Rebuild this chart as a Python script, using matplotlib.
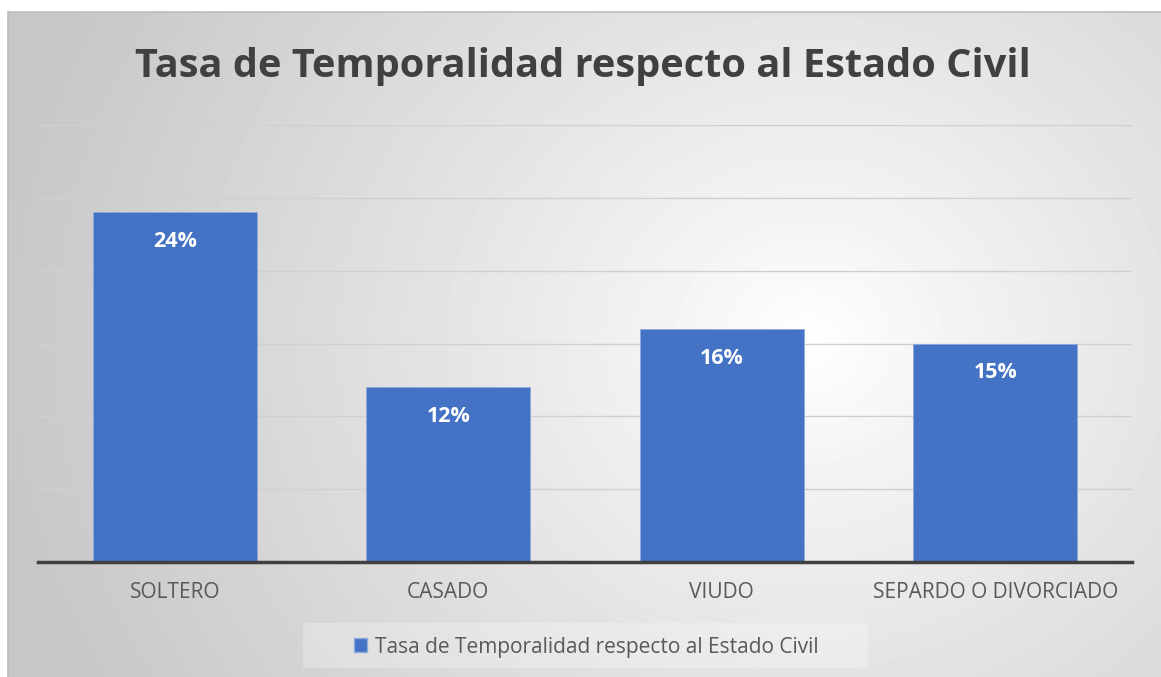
import numpy as np
import matplotlib.pyplot as plt
from matplotlib.patches import Patch, Rectangle

categories = ["SOLTERO", "CASADO", "VIUDO", "SEPARDO O DIVORCIADO"]
values = [24, 12, 16, 15]
labels = ["24%", "12%", "16%", "15%"]
series_name = "Tasa de Temporalidad respecto al Estado Civil"

W, H = 1161, 677
fig = plt.figure(figsize=(W / 100, H / 100), dpi=100)
fig.patch.set_facecolor("white")

# radial gradient background of the chart area
bg = fig.add_axes([8 / W, 0, 1 - 8 / W, 1 - 12 / H])
yy, xx = np.mgrid[0:665, 0:1153]
cx, cy = 800, 330
r = np.sqrt(((xx - cx) / 1.0) ** 2 + ((yy - cy) / 0.9) ** 2)
r = np.clip(r / 820, 0, 1)
shade = 1.0 - 0.22 * r ** 0.9
bg.imshow(shade, cmap="gray", vmin=0, vmax=1, aspect="auto",
          extent=[0, 1, 0, 1], origin="upper")
bg.set_xticks([])
bg.set_yticks([])
for side in ["right", "bottom"]:
    bg.spines[side].set_visible(False)
for side in ["left", "top"]:
    bg.spines[side].set_color("#bdbdbd")
    bg.spines[side].set_linewidth(1.2)

# faint legend box
fig.patches.append(Rectangle((303 / W, 1 - 668 / H), 565 / W, 45 / H,
                             transform=fig.transFigure, facecolor="white",
                             alpha=0.25, edgecolor="none", zorder=1))

ax = fig.add_axes([38 / W, (H - 562) / H, (1132 - 38) / W, (562 - 125) / H])
ax.set_facecolor("none")
x = np.arange(len(categories))
bars = ax.bar(x, values, width=0.6, color="#4472C4", edgecolor="#8eaadb",
              linewidth=0.6, zorder=3)
ax.set_xlim(-0.5, len(categories) - 0.5)
ax.set_ylim(0, 30)
ax.set_yticks(np.arange(5, 31, 5))
ax.yaxis.grid(True, color="#d0d0d0", linewidth=1.0, zorder=0)
ax.tick_params(axis="y", left=False, labelleft=False)
ax.tick_params(axis="x", bottom=False, pad=11)
ax.set_xticks(x)
ax.set_xticklabels(categories, fontsize=15, color="#595959",
                   family=["Open Sans", "DejaVu Sans"])
for side in ["left", "right", "top"]:
    ax.spines[side].set_visible(False)
ax.spines["bottom"].set_color("#404040")
ax.spines["bottom"].set_linewidth(2.5)
ax.spines["bottom"].set_zorder(4)

for xi, v, lab in zip(x, values, labels):
    ax.text(xi, v - 2.0, lab, ha="center", va="center", color="white",
            fontsize=15.5, fontweight="bold", family=["Open Sans", "DejaVu Sans"],
            zorder=5)

fig.text(583 / W, 1 - 66 / H, series_name, ha="center", va="center",
         fontsize=28.6, fontweight="bold", color="#404040",
         family=["Open Sans", "DejaVu Sans"])

leg = fig.legend(handles=[Patch(facecolor="#4472C4", edgecolor="#8eaadb",
                                label=series_name)],
                 loc="center", bbox_to_anchor=(586 / W, 1 - 647 / H),
                 frameon=False, handlelength=0.65,
                 handleheight=0.65, handletextpad=0.35,
                 prop={"family": ["Open Sans", "DejaVu Sans"], "size": 15})
for t in leg.get_texts():
    t.set_color("#595959")

fig.savefig("out.png", dpi=100)
